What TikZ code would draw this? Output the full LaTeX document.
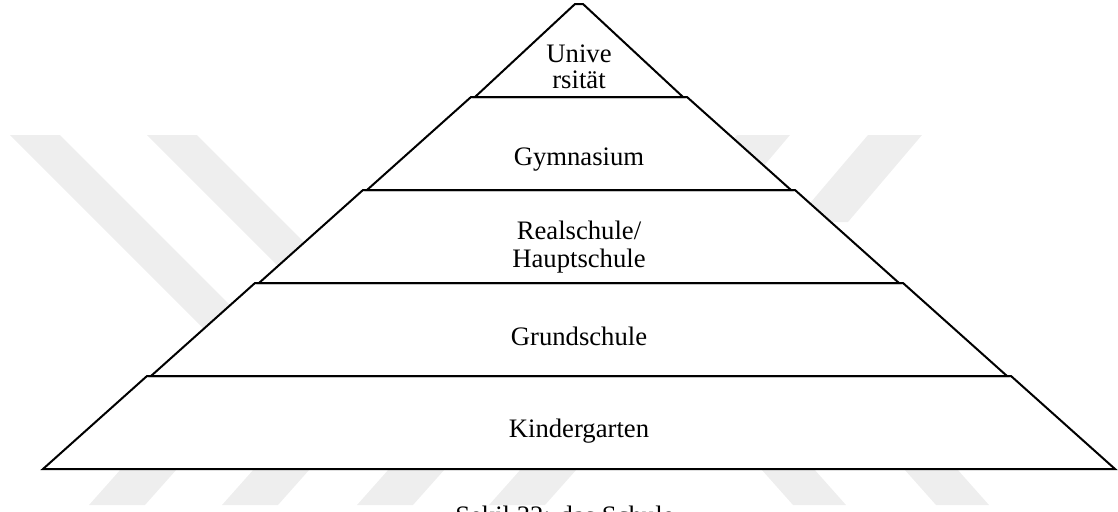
\documentclass[tikz,border=0pt]{standalone}
\usepackage{fontspec}
\setmainfont{Liberation Serif}
\definecolor{wmgray}{HTML}{EEEEEE}
\tikzset{
	band/.style={draw=black, fill=white, line width=1.5pt, line join=miter},
	wmark/.style={fill=wmgray, draw=none},
	lbl/.style={font=\fontsize{20}{20}\selectfont, anchor=base, inner sep=0pt}
}
\begin{document}
\begin{tikzpicture}[x=0.75pt,y=0.75pt,yscale=-1,xscale=1]
	\useasboundingbox (0,0) rectangle (1118,511);
	%Watermark: upper left stripes
	\fill[wmark] (10,135) -- (60,135) -- (255,330) -- (205,330) -- cycle ;
	\fill[wmark] (147,135) -- (197,135) -- (362,300) -- (312,300) -- cycle ;
	%Watermark: upper right stripes
	\fill[wmark] (737,135) -- (790,135) -- (680,265) -- (627,265) -- cycle ;
	\fill[wmark] (868,135) -- (922,135) -- (848,222) -- (794,222) -- cycle ;
	%Watermark: bottom stripes
	\fill[wmark] (121,469) -- (177,469) -- (145,505) -- (89,505) -- cycle ;
	\fill[wmark] (254,469) -- (310,469) -- (278,505) -- (222,505) -- cycle ;
	\fill[wmark] (389,469) -- (445,469) -- (413,505) -- (357,505) -- cycle ;
	\fill[wmark] (521,469) -- (577,469) -- (545,505) -- (489,505) -- cycle ;
	\fill[wmark] (761,469) -- (814,469) -- (846,505) -- (793,505) -- cycle ;
	\fill[wmark] (904,469) -- (957,469) -- (989,505) -- (936,505) -- cycle ;
	%Shape: Trapezoid (Kindergarten)
	\draw[band] (43,469) -- (147,376) -- (1011,376) -- (1115,469) -- cycle ;
	%Shape: Trapezoid (Grundschule)
	\draw[band] (151,376) -- (255,283) -- (903,283) -- (1007,376) -- cycle ;
	%Shape: Trapezoid (Realschule)
	\draw[band] (259,283) -- (363,190) -- (795,190) -- (899,283) -- cycle ;
	%Shape: Trapezoid (Gymnasium)
	\draw[band] (367,190) -- (471,97) -- (687,97) -- (791,190) -- cycle ;
	%Shape: Triangle (Universität)
	\draw[band] (475,97) -- (575,4) -- (583,4) -- (683,97) -- cycle ;
	%Labels
	\node[lbl] (uni1) at (579,62) {Unive};
	\node[lbl] (uni2) at (579,88) {rsität};
	\node[lbl] (gym) at (579,165) {Gymnasium};
	\node[lbl] (real1) at (579,239) {Realschule/};
	\node[lbl] (real2) at (579,267) {Hauptschule};
	\node[lbl] (grund) at (579,345) {Grundschule};
	\node[lbl] (kinder) at (579,437) {Kindergarten};
	%Caption
	\node[lbl, anchor=base west] (caption) at (455,524) {Şekil 32: das Schule};
\end{tikzpicture}
\end{document}
